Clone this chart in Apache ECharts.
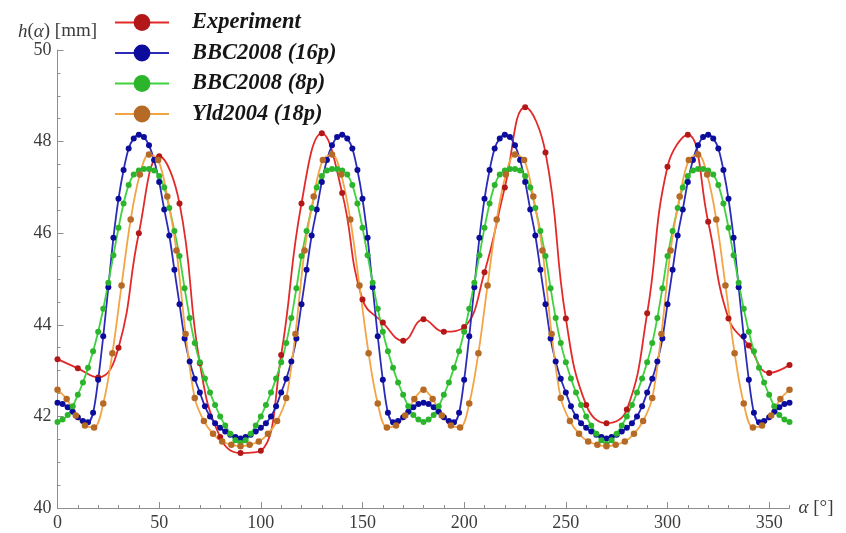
<!DOCTYPE html>
<html>
<head>
<meta charset="utf-8">
<title>Earing profile h(α)</title>
<script src="https://cdn.jsdelivr.net/npm/echarts@6/dist/echarts.min.js"></script>
<style>
  html, body { margin: 0; padding: 0; background: #ffffff; }
  #chart { width: 846px; height: 533px; }
</style>
</head>
<body>
<div id="chart"></div>
<script>
// Cup height h(α) [mm] versus angle to the rolling direction α [°]

// axis ticks
const xTicks = [0, 50, 100, 150, 200, 250, 300, 350];
const yTicks = [40, 42, 44, 46, 48, 50];

// measured cup heights, every 10°
const angleExp = [0, 10, 20, 30, 40, 50, 60, 70, 80, 90, 100, 110, 120, 130, 140, 150, 160, 170, 180,
  190, 200, 210, 220, 230, 240, 250, 260, 270, 280, 290, 300, 310, 320, 330, 340, 350, 360];
const hExp = [43.25, 43.05, 42.85, 43.50, 46.00, 47.68, 46.65, 43.16, 41.55, 41.20, 41.25, 43.34, 46.65,
  48.18, 46.88, 44.55, 44.05, 43.65, 44.12, 43.85, 43.95, 45.15, 47.00, 48.75, 47.76, 44.14, 42.25,
  41.85, 42.15, 44.25, 47.45, 48.15, 46.25, 44.14, 43.55, 42.95, 43.12];

// BBC2008 (16 parameters), every 2.5°
const stepBBC16 = 2.5;
const hBBC16 = [
  42.30, 42.27, 42.20, 42.10, 41.98, 41.90, 41.87, 42.08, 42.80, 43.75, 44.82, 45.90, 46.75, 47.38,
  47.85, 48.07, 48.15, 48.10, 47.92, 47.60, 47.12, 46.52, 45.95, 45.20, 44.45, 43.70, 43.20, 42.82,
  42.52, 42.22, 42.00, 41.85, 41.75, 41.67, 41.60, 41.55, 41.52,
  41.55, 41.60, 41.67, 41.75, 41.85, 42.00, 42.22, 42.52, 42.82, 43.20, 43.70, 44.45, 45.20, 45.95,
  46.52, 47.12, 47.60, 47.92, 48.10, 48.15, 48.07, 47.85, 47.38, 46.75, 45.90, 44.82, 43.75, 42.80,
  42.08, 41.87, 41.90, 41.98, 42.10, 42.20, 42.27, 42.30,
  42.27, 42.20, 42.10, 41.98, 41.90, 41.87, 42.08, 42.80, 43.75, 44.82, 45.90, 46.75, 47.38,
  47.85, 48.07, 48.15, 48.10, 47.92, 47.60, 47.12, 46.52, 45.95, 45.20, 44.45, 43.70, 43.20, 42.82,
  42.52, 42.22, 42.00, 41.85, 41.75, 41.67, 41.60, 41.55, 41.52,
  41.55, 41.60, 41.67, 41.75, 41.85, 42.00, 42.22, 42.52, 42.82, 43.20, 43.70, 44.45, 45.20, 45.95,
  46.52, 47.12, 47.60, 47.92, 48.10, 48.15, 48.07, 47.85, 47.38, 46.75, 45.90, 44.82, 43.75, 42.80,
  42.08, 41.87, 41.90, 41.98, 42.10, 42.20, 42.27, 42.30
];

// BBC2008 (8 parameters), every 2.5°
const stepBBC8 = 2.5;
const hBBC8 = [
  41.88, 41.93, 42.03, 42.22, 42.47, 42.74, 43.06, 43.42, 43.85, 44.35, 44.92, 45.52, 46.12, 46.65,
  47.05, 47.28, 47.37, 47.40, 47.40, 47.37, 47.25, 47.00, 46.55, 46.05, 45.50, 44.80, 44.15, 43.60,
  43.18, 42.83, 42.52, 42.25, 42.00, 41.80, 41.62, 41.48, 41.42,
  41.48, 41.62, 41.80, 42.00, 42.25, 42.52, 42.83, 43.18, 43.60, 44.15, 44.80, 45.50, 46.05, 46.55,
  47.00, 47.25, 47.37, 47.40, 47.40, 47.37, 47.28, 47.05, 46.65, 46.12, 45.52, 44.92, 44.35, 43.85,
  43.42, 43.06, 42.74, 42.47, 42.22, 42.03, 41.93, 41.88,
  41.93, 42.03, 42.22, 42.47, 42.74, 43.06, 43.42, 43.85, 44.35, 44.92, 45.52, 46.12, 46.65,
  47.05, 47.28, 47.37, 47.40, 47.40, 47.37, 47.25, 47.00, 46.55, 46.05, 45.50, 44.80, 44.15, 43.60,
  43.18, 42.83, 42.52, 42.25, 42.00, 41.80, 41.62, 41.48, 41.40,
  41.48, 41.62, 41.80, 42.00, 42.25, 42.52, 42.83, 43.18, 43.60, 44.15, 44.80, 45.50, 46.05, 46.55,
  47.00, 47.25, 47.37, 47.40, 47.40, 47.37, 47.28, 47.05, 46.65, 46.12, 45.52, 44.92, 44.35, 43.85,
  43.42, 43.06, 42.74, 42.47, 42.22, 42.03, 41.93, 41.88
];

// Yld2004 (18 parameters), every 4.5°
const stepYld = 4.5;
const hYld = [
  42.58, 42.38, 42.02, 41.80, 41.76, 42.28, 43.38, 44.86, 46.30, 47.28, 47.72, 47.60, 46.80, 45.62,
  43.80, 42.40, 41.90, 41.62, 41.45, 41.38, 41.35,
  41.38, 41.45, 41.62, 41.90, 42.40, 43.80, 45.62, 46.80, 47.60, 47.72, 47.28, 46.30, 44.86, 43.38,
  42.28, 41.76, 41.80, 42.02, 42.38, 42.58,
  42.38, 42.02, 41.80, 41.76, 42.28, 43.38, 44.86, 46.30, 47.28, 47.72, 47.60, 46.80, 45.62,
  43.80, 42.40, 41.90, 41.62, 41.45, 41.38, 41.35,
  41.38, 41.45, 41.62, 41.90, 42.40, 43.80, 45.62, 46.80, 47.60, 47.72, 47.28, 46.30, 44.86, 43.38,
  42.28, 41.76, 41.80, 42.02, 42.38, 42.58
];

function pairsFromAngles(angles, values) {
  return values.map((v, i) => [angles[i], v]);
}
function pairsFromStep(step, values) {
  return values.map((v, i) => [i * step, v]);
}

const SERIF = 'Liberation Serif, Times New Roman, serif';
const AXIS_GREY = '#8e8e8e';
const LABEL_GREY = '#3c3c3c';

function lineSeries(name, data, lineColor, markColor, size, smooth) {
  return {
    name: name,
    type: 'line',
    data: data,
    smooth: smooth,
    symbol: 'circle',
    symbolSize: size,
    showAllSymbol: true,
    lineStyle: { color: lineColor, width: 1.8 },
    itemStyle: { color: markColor, borderWidth: 0 },
    emphasis: { disabled: true },
    z: 2
  };
}

const chart = echarts.init(document.getElementById('chart'), null, { renderer: 'canvas' });

chart.setOption({
  animation: false,
  backgroundColor: '#ffffff',
  grid: { left: 57.5, right: 56.5, top: 50, bottom: 25, outerBoundsMode: 'none' },
  legend: {
    orient: 'vertical',
    left: 114,
    top: 11,
    padding: 0,
    itemWidth: 54,
    itemHeight: 21,
    itemGap: 7.5,
    selectedMode: false,
    textStyle: {
      fontFamily: SERIF,
      fontStyle: 'italic',
      fontWeight: 'bold',
      fontSize: 22.5,
      color: '#161616',
      padding: [0, 0, 0, 18]
    },
    data: ['Experiment', 'BBC2008 (16p)', 'BBC2008 (8p)', 'Yld2004 (18p)']
  },
  xAxis: [
    {
      type: 'value',
      min: 0,
      max: 360,
      interval: 10,
      axisLine: { show: true, lineStyle: { color: AXIS_GREY, width: 1 } },
      axisTick: { show: true, inside: true, length: 3, lineStyle: { color: AXIS_GREY } },
      axisLabel: {
        customValues: xTicks,
        margin: 6,
        fontFamily: SERIF,
        fontSize: 18,
        color: LABEL_GREY
      },
      splitLine: { show: false },
      name: '{i|α} [°]',
      nameLocation: 'end',
      nameGap: 9,
      nameTextStyle: {
        fontFamily: SERIF,
        fontSize: 19,
        color: LABEL_GREY,
        verticalAlign: 'middle',
        rich: { i: { fontFamily: SERIF, fontStyle: 'italic', fontSize: 19, color: LABEL_GREY } }
      }
    },
    {
      type: 'value',
      min: 0,
      max: 360,
      position: 'bottom',
      axisLine: { show: false },
      axisTick: { show: true, inside: true, length: 6, customValues: xTicks, lineStyle: { color: AXIS_GREY } },
      axisLabel: { show: false },
      splitLine: { show: false }
    }
  ],
  yAxis: {
    type: 'value',
    min: 40,
    max: 50,
    interval: 2,
    axisLine: { show: true, lineStyle: { color: AXIS_GREY, width: 1 } },
    axisTick: { show: true, inside: true, length: 6, lineStyle: { color: AXIS_GREY } },
    minorTick: { show: true, splitNumber: 4, length: 3, lineStyle: { color: AXIS_GREY } },
    axisLabel: {
      customValues: yTicks,
      margin: 6,
      fontFamily: SERIF,
      fontSize: 18,
      color: LABEL_GREY
    },
    splitLine: { show: false },
    name: '{i|h}({i|α}) [mm]',
    nameLocation: 'end',
    nameGap: 9,
    nameTextStyle: {
      fontFamily: SERIF,
      fontSize: 19,
      color: LABEL_GREY,
      rich: { i: { fontFamily: SERIF, fontStyle: 'italic', fontSize: 19, color: LABEL_GREY } }
    }
  },
  series: [
    lineSeries('Experiment', pairsFromAngles(angleExp, hExp), '#e32a2a', '#b31818', 6, 0.45),
    lineSeries('BBC2008 (16p)', pairsFromStep(stepBBC16, hBBC16), '#2b2bb8', '#0c0c9c', 6, 0.3),
    lineSeries('BBC2008 (8p)', pairsFromStep(stepBBC8, hBBC8), '#3fd23f', '#2cb52c', 6, 0.3),
    lineSeries('Yld2004 (18p)', pairsFromStep(stepYld, hYld), '#f3a445', '#b56a26', 6.5, 0.35)
  ]
});
</script>
</body>
</html>
